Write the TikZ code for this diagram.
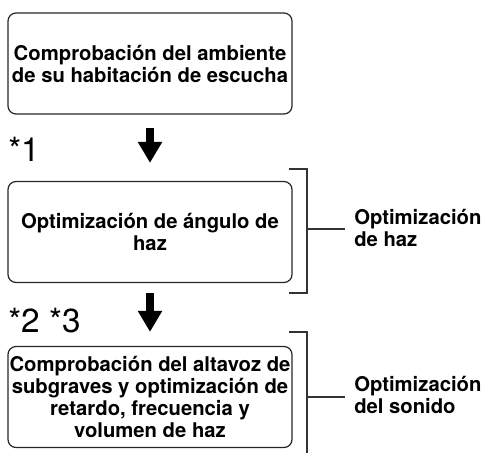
\documentclass[tikz,border=0pt]{standalone}
\usepackage{fontspec}
\setmainfont{TeX Gyre Heros}
\usetikzlibrary{arrows.meta, positioning}

\begin{document}
\begin{tikzpicture}[x=0.75pt,y=-0.75pt,
  stepbox/.style={draw=black!85, line width=0.9pt, rounded corners=6pt,
    minimum width=213pt, minimum height=75.75pt, align=center,
    inner xsep=1pt, inner ysep=2pt, font=\bfseries\fontsize{15.2}{16.5}\selectfont},
  bigarrow/.style={line width=5.7pt, -{Triangle[width=17.25pt,length=15.75pt]}},
  bracketline/.style={draw=black!80, line width=0.8pt},
  sidelabel/.style={anchor=west, align=left, inner sep=0pt,
    font=\bfseries\fontsize{15.2}{17}\selectfont},
  starlabel/.style={anchor=base west, inner sep=0pt, font=\fontsize{25}{25}\selectfont}]
\useasboundingbox (0,0) rectangle (481,453);
\def\bracketx{307}
\def\tickx{289}

% the three steps
\node[stepbox] (check) at (150,63.5) {Comprobación del ambiente\\de su habitación de escucha};
\node[stepbox] (beam) at (150,232) {Optimización de ángulo de\\haz};
\node[stepbox] (sound) at (150,397) {Comprobación del altavoz de\\subgraves y optimización de\\retardo, frecuencia y\\volumen de haz};

\draw[bigarrow, shorten <=9.75pt, shorten >=13.5pt] (check.south) -- (beam.north);
\draw[bigarrow, shorten <=7.5pt, shorten >=10.5pt] (beam.south) -- (sound.north);

\node[starlabel] (noteone) at (8,161) {*1};
\node[starlabel] (notetwo) at (8,332) {*2 *3};

% brackets on the right
\draw[bracketline] (\tickx,169) -- (\bracketx,169) -- (\bracketx,293) -- (\tickx,293);
\draw[bracketline] (\tickx,332) -- (\bracketx,332) -- (\bracketx,453);

\node[sidelabel] (beamlabel) at (354,228) {Optimización\\de haz};
\node[sidelabel] (soundlabel) at (354,395) {Optimización\\del sonido};

\coordinate (beamjoin) at (\bracketx,229);
\coordinate (soundjoin) at (\bracketx,397);
\draw[bracketline, shorten >=7pt] (beamjoin) -- (beamjoin -| beamlabel.west);
\draw[bracketline, shorten >=7pt] (soundjoin) -- (soundjoin -| soundlabel.west);
\end{tikzpicture}
\end{document}
